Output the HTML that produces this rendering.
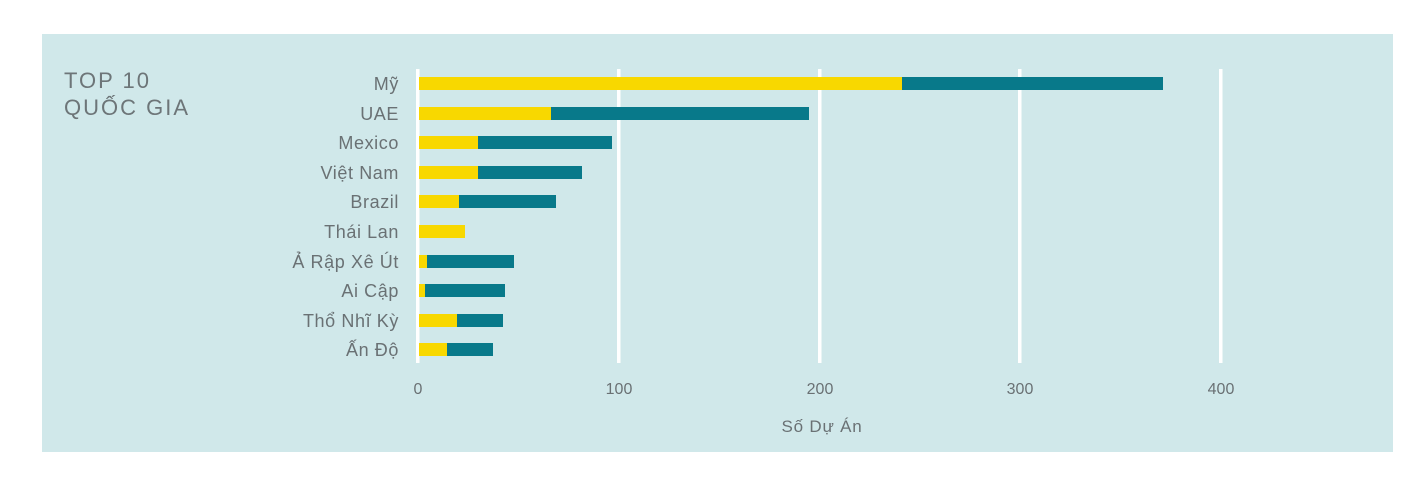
<!DOCTYPE html>
<html><head><meta charset="utf-8"><style>
body{margin:0;background:#fff;}
svg{display:block;font-family:"Liberation Sans","DejaVu Sans",sans-serif;}
</style></head><body>
<svg width="1428" height="486" viewBox="0 0 1428 486">
<rect x="0" y="0" width="1428" height="486" fill="#ffffff"/>
<rect x="42" y="34" width="1351" height="418" fill="#d0e8ea"/>
<text x="64" y="88" font-size="22" fill="#6d7578" letter-spacing="2">TOP 10</text>
<text x="64" y="115" font-size="22" fill="#6d7578" letter-spacing="2">QUỐC GIA</text>
<g fill="#ffffff">
<rect x="416" y="69" width="3.5" height="294"/>
<rect x="617" y="69" width="3.5" height="294"/>
<rect x="818" y="69" width="3.5" height="294"/>
<rect x="1018" y="69" width="3.5" height="294"/>
<rect x="1219" y="69" width="3.5" height="294"/>
</g>
<g font-size="18" fill="#6a7174" text-anchor="end" letter-spacing="0.6">
<text x="399" y="90">Mỹ</text>
<text x="399" y="120">UAE</text>
<text x="399" y="149">Mexico</text>
<text x="399" y="179">Việt Nam</text>
<text x="399" y="208">Brazil</text>
<text x="399" y="238">Thái Lan</text>
<text x="399" y="268">Ả Rập Xê Út</text>
<text x="399" y="297">Ai Cập</text>
<text x="399" y="327">Thổ Nhĩ Kỳ</text>
<text x="399" y="356">Ấn Độ</text>
</g>
<g>
<rect x="419" y="77" width="483" height="13" fill="#f8d800"/><rect x="902" y="77" width="261" height="13" fill="#08798a"/>
<rect x="419" y="107" width="132" height="13" fill="#f8d800"/><rect x="551" y="107" width="258" height="13" fill="#08798a"/>
<rect x="419" y="136" width="59" height="13" fill="#f8d800"/><rect x="478" y="136" width="134" height="13" fill="#08798a"/>
<rect x="419" y="166" width="59" height="13" fill="#f8d800"/><rect x="478" y="166" width="104" height="13" fill="#08798a"/>
<rect x="419" y="195" width="40" height="13" fill="#f8d800"/><rect x="459" y="195" width="97" height="13" fill="#08798a"/>
<rect x="419" y="225" width="46" height="13" fill="#f8d800"/>
<rect x="419" y="255" width="8" height="13" fill="#f8d800"/><rect x="427" y="255" width="87" height="13" fill="#08798a"/>
<rect x="419" y="284" width="6" height="13" fill="#f8d800"/><rect x="425" y="284" width="80" height="13" fill="#08798a"/>
<rect x="419" y="314" width="38" height="13" fill="#f8d800"/><rect x="457" y="314" width="46" height="13" fill="#08798a"/>
<rect x="419" y="343" width="28" height="13" fill="#f8d800"/><rect x="447" y="343" width="46" height="13" fill="#08798a"/>
</g>
<g font-size="16" fill="#6a7174" text-anchor="middle">
<text x="418" y="394">0</text>
<text x="619" y="394">100</text>
<text x="820" y="394">200</text>
<text x="1020" y="394">300</text>
<text x="1221" y="394">400</text>
<text x="822" y="432" font-size="17" letter-spacing="0.8">Số Dự Án</text>
</g>
</svg>
</body></html>
